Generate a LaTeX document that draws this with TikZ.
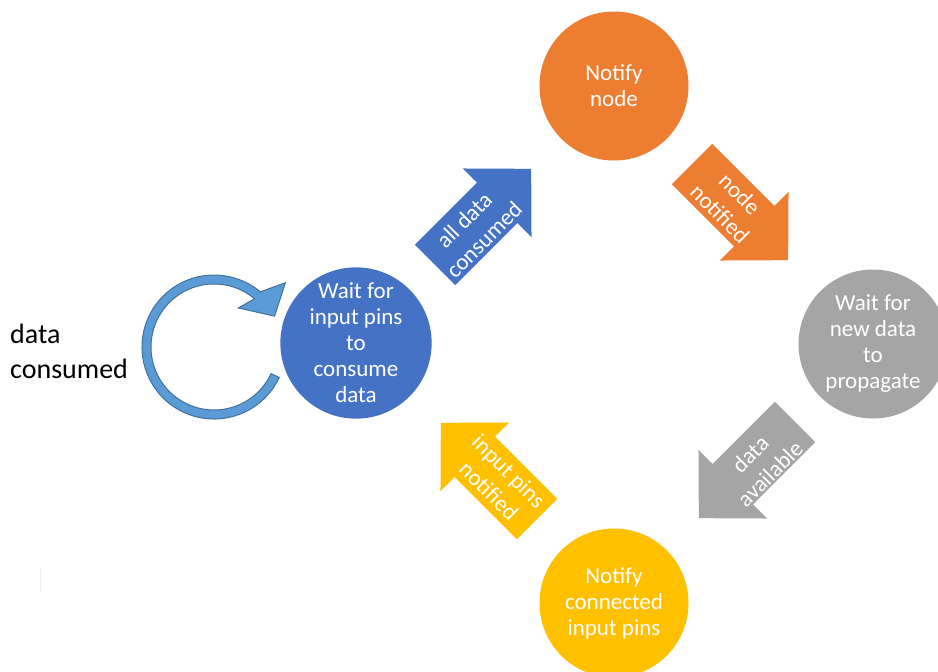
\documentclass[tikz,border=0pt]{standalone}
\usepackage{fontspec}
\setmainfont{Carlito}
\usetikzlibrary{calc}
\definecolor{cblue}{HTML}{4472C4}
\definecolor{corange}{HTML}{ED7D31}
\definecolor{cgray}{HTML}{A5A5A5}
\definecolor{cyellow}{HTML}{FFC000}
\definecolor{cring}{HTML}{5B9BD5}
\definecolor{cringline}{HTML}{41719C}
\newcommand\myblockarrow[3]{%
  \fill[#1, shift={#2}, rotate=#3] (0,-28.5) -- (88,-28.5) -- (88,-48.5) -- (136,0)
    -- (88,48.5) -- (88,28.5) -- (0,28.5) -- cycle;}
\begin{document}
\begin{tikzpicture}[x=1pt,y=-1pt,
  state/.style={circle, minimum size=149pt, inner sep=0pt, align=center, text=white,
    font=\fontsize{23}{26}\selectfont},
  arrowtext/.style={align=center, text=white, inner sep=0pt,
    font=\fontsize{23}{28}\selectfont}]
\useasboundingbox (0,0) rectangle (938,672);
\clip (0,0) rectangle (938,672);
\fill[white] (0,0) rectangle (938,672);

% states
\node[state, fill=corange] (notify) at (614,86) {Notify\\node};
\node[state, fill=cgray] (waitnew) at (873,344) {Wait for\\new data\\to\\propagate};
\node[state, fill=cyellow] (notifypins) at (614,603) {Notify\\connected\\input pins};
\node[state, fill=cblue] (waitpins) at (356,343) {Wait for\\input pins\\to\\consume\\data};

% block arrows
\myblockarrow{cblue}{(435,265)}{45}
\myblockarrow{corange}{(692,164)}{-45}
\myblockarrow{cgray}{(795,422)}{-135}
\myblockarrow{cyellow}{(537,519)}{135}

\node[arrowtext, rotate=45] (t1) at (474,230) {all data\\consumed};
\node[arrowtext, rotate=-45] (t2) at (730,204) {node\\notified};
\node[arrowtext, rotate=45] (t3) at (760,464) {data\\available};
\node[arrowtext, rotate=-45] (t4) at (499,481) {input pins\\notified};

% circular arrow
\coordinate (c) at (214,347);
\filldraw[fill=cring, draw=cringline, line width=1pt, line join=miter]
  ($(c)+(25:72)$) arc[start angle=25, end angle=310, radius=72]
  -- ($(c)+(318:96)$) -- ($(c)+(333:68)$) -- ($(c)+(302:46)$)
  -- ($(c)+(310:63)$) arc[start angle=310, end angle=25, radius=63] -- cycle;

\node[anchor=west, align=left, inner sep=0pt, font=\fontsize{28}{35}\selectfont] (lbl) at (10,351) {data\\consumed};

% faint mark
\coordinate (m1) at (40,567);
\coordinate (m2) at (40,592);
\draw[black!7, line width=0.6pt] (m1) -- (m2);
\end{tikzpicture}
\end{document}
